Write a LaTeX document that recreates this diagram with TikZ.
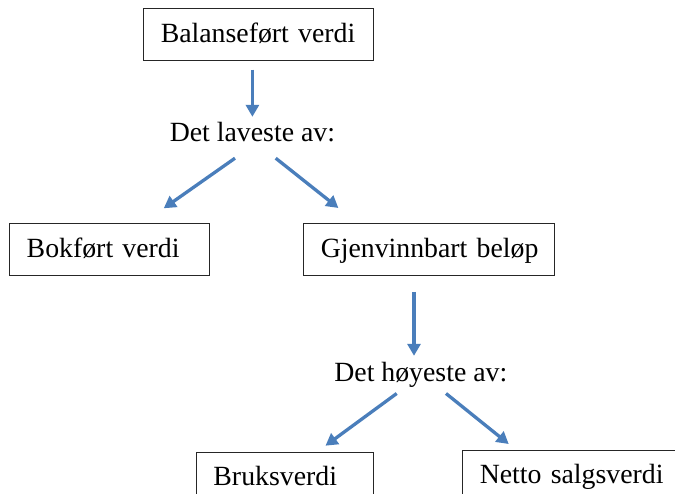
\documentclass[tikz,border=0pt]{standalone}
\usepackage{fontspec}
\setmainfont{Liberation Serif}
\usetikzlibrary{arrows.meta, calc}
\definecolor{pilblue}{RGB}{74,126,187}

\begin{document}
\begin{tikzpicture}[>={Triangle[length=12pt, width=13pt]}, x=1pt, y=-1pt,
        font=\fontsize{27.8}{33}\selectfont]
    \tikzset{
        boks/.style={draw=black!85, line width=0.9pt, anchor=north west, align=left,
            inner xsep=17pt, inner ysep=0pt, minimum height=51.7pt,
            text height=19.5pt, text depth=4.5pt},
        tekst/.style={anchor=base, inner sep=0pt, text height=19.5pt, text depth=6pt},
        pil/.style={->, color=pilblue, line width=3.3pt}
    };
    \path[use as bounding box, clip] (0,0) rectangle (675,494);
    \node[boks, text width=195.4pt] (bal) at (143.3,8.3) {Balanseført~verdi};
    \node[tekst] (lav) at (252.4,142) {Det laveste av:};
    \node[boks, text width=166pt] (bok) at (9.3,223.3) {Bokført~verdi};
    \node[boks, text width=216.7pt] (gjen) at (303.3,223.3) {Gjenvinnbart~beløp};
    \node[tekst] (hoy) at (420.8,381.7) {Det høyeste av:};
    \node[boks, text width=142.7pt] (bruk) at (196,452) {Bruksverdi};
    \node[boks, text width=203.7pt] (netto) at (462.3,450) {Netto~salgsverdi};
    \path[pil]
        (lav.north |- bal.south) edge[shorten <=8.7pt, shorten >=5.5pt] (lav.north)
        ([xshift=-17.4pt, yshift=-10pt]lav.south) edge ([xshift=54pt, yshift=15pt]bok.north)
        ([xshift=23.3pt, yshift=-10pt]lav.south) edge ([xshift=-90.7pt, yshift=15.3pt]gjen.north)
        ([xshift=-6.8pt]hoy.north |- gjen.south) edge[shorten <=16pt, shorten >=6.2pt] ([xshift=-6.8pt]hoy.north)
        ([xshift=-24.1pt, yshift=-5.6pt]hoy.south) edge ([xshift=40.7pt, yshift=6.3pt]bruk.north)
        ([xshift=25.2pt, yshift=-5.6pt]hoy.south) edge ([xshift=-72.9pt, yshift=6pt]netto.north)
    ;
\end{tikzpicture}
\end{document}
